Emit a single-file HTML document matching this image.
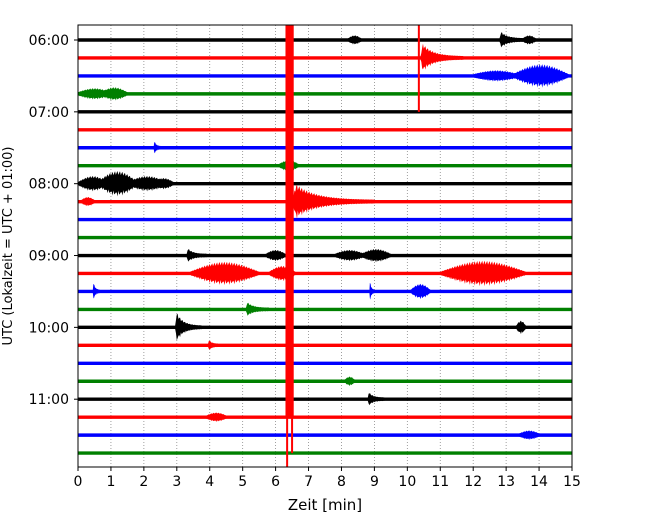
<!DOCTYPE html>
<html><head><meta charset="utf-8"><style>
body{margin:0;background:#fff;}
svg{display:block;font-family:"DejaVu Sans","Liberation Sans",sans-serif;}
</style></head><body>
<svg id="c" width="650" height="520"></svg>
<script>
// data
const hourLabels=["06:00","07:00","08:00","09:00","10:00","11:00"];
const xTicks=[0,1,2,3,4,5,6,7,8,9,10,11,12,13,14,15];
const traceCount=24;
const traceColors=["black","red","blue","green"];
// events: trace index, start minute, peak half-amplitude (px), duration (min), shape
const evTrace=[0,0,0,1,2,2,3,3,6,7,8,8,8,8,9,9,12,12,12,12,13,13,13,14,14,14,15,16,16,17,19,20,21,22,9];
const evStart=[8.2,12.8,13.5,10.4,12.0,13.2,0,0.7,2.3,6.1,0,0.6,1.5,2.3,6.5,0.1,3.3,5.7,7.8,8.6,3.4,5.8,11.0,0.45,8.85,10.1,5.1,2.95,13.3,3.95,8.1,8.8,3.9,13.4,6.3];
const evAmp=[3,7,3,13,4,10,4,5,7,4,6,11,6,4,16,3,6,4,4,5,10,6,11,10,12,6,6,14,5,5,3,6,3,3,7];
const evDur=[0.4,0.8,0.4,1.3,1.4,1.7,1,0.8,0.2,0.6,0.9,1.2,1.2,0.6,2.5,0.4,0.6,0.6,0.9,0.9,2.1,0.8,2.6,0.2,0.15,0.6,0.7,0.8,0.3,0.3,0.3,0.5,0.6,0.6,0.3];
const evShape=["s","d","s","d","s","s","s","s","d","s","s","s","s","s","d","s","d","s","s","s","s","s","s","d","d","s","d","d","s","d","s","d","s","s","s"];
// vertical clipped spikes: minute, top trace, bottom trace
const spikeMin=[6.35,6.5,10.35];
const spikeTop=[-1,-1,-1];
const spikeBot=[24,23,4];
const spikeCol=["red","red","red"];

const NS="http://www.w3.org/2000/svg";
const svg=document.getElementById("c");
const L=78,R=572,T=25,B=467;
const x=m=>L+(R-L)*m/15;
const y=i=>40+i*17.96;
function el(t,a,p){const e=document.createElementNS(NS,t);for(const k in a)e.setAttribute(k,a[k]);(p||svg).appendChild(e);return e;}
const defs=el("defs",{});const cp=el("clipPath",{id:"clip"},defs);el("rect",{x:L,y:T,width:R-L,height:B-T},cp);
const g=el("g",{"clip-path":"url(#clip)"});


xTicks.forEach(t=>{if(t>0&&t<15){const l=el("line",{x1:x(t),x2:x(t),y1:T,y2:B,stroke:"#888","stroke-width":0.8,"stroke-dasharray":"1,2"},g);

}});
for(let i=0;i<traceCount;i++){
 const l=el("line",{x1:L,x2:R,y1:y(i),y2:y(i),stroke:traceColors[i%4],"stroke-width":3.4},g);
 
 
}
for(let k=0;k<evTrace.length;k++){
 const i=evTrace[k],c=traceColors[i%4],s=evStart[k],d=evDur[k],a=evAmp[k],yc=y(i);
 const up=[],dn=[];const N=Math.max(12,Math.round(d*40));
 for(let j=0;j<=N;j++){const f=j/N;let e;
  if(evShape[k]==="d")e=f<0.05?f/0.05:Math.exp(-(f-0.05)*4);else e=Math.sin(Math.PI*f);
  const w=(j%3===0)?1:(j%3===1?0.65:0.85);
  const h=1.7+a*e*w;const px=x(s+d*f);up.push(px+","+(yc-h));dn.unshift(px+","+(yc+h*(j%2?0.8:1)));}
 const p=el("polygon",{points:up.concat(dn).join(" "),fill:c},g);
 
 
}
for(let k=0;k<spikeMin.length;k++){
 const l=el("line",{x1:x(spikeMin[k]),x2:x(spikeMin[k]),y1:y(spikeTop[k]),y2:y(spikeBot[k]),stroke:spikeCol[k],"stroke-width":2},g);
 
 
}
const blk=el("rect",{x:x(6.3),y:T,width:x(6.55)-x(6.3),height:y(21)-T,fill:"red"},g);


const fr=el("rect",{x:L,y:T,width:R-L,height:B-T,fill:"none",stroke:"black","stroke-width":1});


xTicks.forEach(t=>{
 el("line",{x1:x(t),x2:x(t),y1:B,y2:B+4,stroke:"black"});
 const tx=el("text",{x:x(t),y:B+19,"text-anchor":"middle","font-size":14});tx.textContent=t;
 
 
});
hourLabels.forEach((h,j)=>{
 const yy=y(j*4);el("line",{x1:L-4,x2:L,y1:yy,y2:yy,stroke:"black"});
 const tx=el("text",{x:L-9,y:yy+5,"text-anchor":"end","font-size":14});tx.textContent=h;
 
 
});
const xl=el("text",{x:325,y:510,"text-anchor":"middle","font-size":15});xl.textContent="Zeit  [min]";


const yl=el("text",{x:0,y:0,"text-anchor":"middle","font-size":13,transform:"translate(12,246) rotate(-90)"});yl.textContent="UTC (Lokalzeit = UTC + 01:00)";


</script>
</body></html>
